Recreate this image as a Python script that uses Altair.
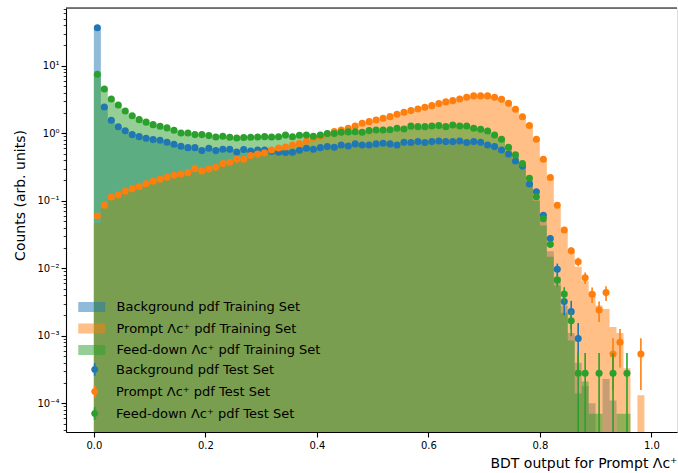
import altair as alt
import pandas as pd

# ---------------- data ----------------
n_bins = 80
bin_edges = [round(i * 0.0125, 5) for i in range(n_bins + 1)]

series_train = ["Background pdf Training Set",
                "Prompt Λc⁺  pdf Training Set",
                "Feed-down Λc⁺  pdf Training Set"]
series_test = ["Background pdf Test Set",
               "Prompt Λc⁺  pdf Test Set",
               "Feed-down Λc⁺  pdf Test Set"]
colors = ["#1f77b4", "#ff7f0e", "#2ca02c"]
# weight of a single entry (sets the Poisson error bars)
unit_weight = [4.5e-4, 2.68e-4, 2.78e-4]

bkg_test = [36.6, 2.45, 1.56, 1.25, 1.09, 0.955, 0.891, 0.843, 0.805, 0.787,
            0.735, 0.687, 0.641, 0.612, 0.612, 0.553, 0.600, 0.553, 0.579, 0.579,
            0.528, 0.573, 0.547, 0.566, 0.562, 0.537, 0.525, 0.519, 0.525, 0.560,
            0.600, 0.579, 0.612, 0.634, 0.619, 0.671, 0.649, 0.695, 0.671, 0.671,
            0.695, 0.711, 0.695, 0.671, 0.736, 0.728, 0.752, 0.728, 0.752, 0.769,
            0.752, 0.752, 0.769, 0.728, 0.752, 0.736, 0.671, 0.634, 0.566, 0.494,
            0.389, 0.324, 0.177, 0.136, 0.061, 0.0275, 0.00966, 0.00321, 0.00228, 0.000912,
            0, 0, 0, 0, 0, 0, 0, 0, 0, 0]

prompt_test = [0.0596, 0.0857, 0.114, 0.122, 0.138, 0.151, 0.162, 0.179, 0.195, 0.208,
               0.223, 0.239, 0.249, 0.261, 0.299, 0.277, 0.296, 0.313, 0.355, 0.372,
               0.412, 0.412, 0.468, 0.490, 0.513, 0.566, 0.603, 0.627, 0.668, 0.703,
               0.759, 0.843, 0.891, 0.977, 1.057, 1.119, 1.186, 1.282, 1.406, 1.486,
               1.574, 1.667, 1.762, 1.910, 2.046, 2.163, 2.291, 2.427, 2.564, 2.748,
               2.911, 3.041, 3.221, 3.412, 3.573, 3.573, 3.573, 3.412, 3.192, 2.780,
               2.270, 1.754, 1.303, 0.815, 0.412, 0.221, 0.0857, 0.037, 0.0182, 0.01253,
               0.00726, 0.00412, 0.00241, 0.00436, 0.000537, 0.000802, 0, 0, 0.000537, 0]

fd_test = [7.48, 4.53, 3.22, 2.62, 2.14, 1.82, 1.59, 1.46, 1.34, 1.27,
           1.20, 1.11, 1.01, 1.01, 0.955, 0.955, 0.923, 0.881, 0.902, 0.873,
           0.851, 0.863, 0.873, 0.881, 0.891, 0.881, 0.887, 0.938, 0.887, 0.933,
           0.944, 0.902, 0.944, 0.989, 0.989, 1.035, 1.047, 1.052, 1.035, 1.094,
           1.12, 1.12, 1.127, 1.186, 1.153, 1.274, 1.253, 1.253, 1.282, 1.297,
           1.253, 1.327, 1.282, 1.282, 1.186, 1.146, 1.081, 0.944, 0.815, 0.621,
           0.478, 0.356, 0.215, 0.115, 0.054, 0.0226, 0.00671, 0.00417, 0.00167, 0.000278,
           0.000278, 0, 0.000278, 0, 0.000278, 0, 0.000278, 0, 0, 0]

bkg_train = [36.6, 2.45, 1.56, 1.25, 1.09, 0.955, 0.891, 0.843, 0.805, 0.787,
             0.735, 0.687, 0.641, 0.612, 0.612, 0.553, 0.600, 0.553, 0.579, 0.579,
             0.528, 0.573, 0.547, 0.566, 0.562, 0.537, 0.525, 0.519, 0.525, 0.560,
             0.600, 0.579, 0.612, 0.634, 0.619, 0.671, 0.649, 0.695, 0.671, 0.671,
             0.695, 0.711, 0.695, 0.671, 0.736, 0.728, 0.752, 0.728, 0.752, 0.769,
             0.752, 0.752, 0.769, 0.728, 0.752, 0.736, 0.671, 0.634, 0.566, 0.494,
             0.37, 0.29, 0.185, 0.105, 0.050, 0.0178, 0.0075, 0.0028, 0.0011, 0.0004,
             0.00018, 0.0001, 0, 0.00023, 0.00011, 0, 0, 0, 0, 0]

prompt_train = [0.047, 0.0857, 0.114, 0.122, 0.138, 0.151, 0.162, 0.179, 0.195, 0.208,
                0.223, 0.239, 0.249, 0.261, 0.299, 0.277, 0.296, 0.313, 0.355, 0.372,
                0.412, 0.412, 0.468, 0.490, 0.513, 0.566, 0.603, 0.627, 0.668, 0.703,
                0.759, 0.843, 0.891, 0.977, 1.057, 1.119, 1.186, 1.282, 1.406, 1.486,
                1.574, 1.667, 1.762, 1.910, 2.046, 2.163, 2.291, 2.427, 2.564, 2.748,
                2.911, 3.041, 3.221, 3.412, 3.573, 3.573, 3.573, 3.412, 3.192, 2.780,
                2.270, 1.754, 1.303, 0.815, 0.412, 0.221, 0.080, 0.035, 0.018, 0.0105,
                0.0065, 0.0045, 0.0028, 0.0025, 0.00135, 0.0011, 0.00033, 0, 0.000132, 0]

fd_train = [7.48, 4.53, 3.22, 2.62, 2.14, 1.82, 1.59, 1.46, 1.34, 1.27,
            1.20, 1.11, 1.01, 1.01, 0.955, 0.955, 0.923, 0.881, 0.902, 0.873,
            0.851, 0.863, 0.873, 0.881, 0.891, 0.881, 0.887, 0.938, 0.887, 0.933,
            0.944, 0.902, 0.944, 0.989, 0.989, 1.035, 1.047, 1.052, 1.035, 1.094,
            1.12, 1.12, 1.127, 1.186, 1.153, 1.274, 1.253, 1.253, 1.282, 1.297,
            1.253, 1.327, 1.282, 1.282, 1.186, 1.146, 1.081, 0.944, 0.815, 0.621,
            0.45, 0.33, 0.20, 0.10, 0.043, 0.0148, 0.0055, 0.0022, 0.00085, 0.00014,
            0.00021, 0.00007, 0.00007, 0, 0, 0.00007, 0.00007, 0, 0, 0]

x_tick_values = [0.0, 0.2, 0.4, 0.6, 0.8, 1.0]
y_major_exp = [-4, -3, -2, -1, 0, 1]
y_major_labels = ["10⁻⁴", "10⁻³", "10⁻²", "10⁻¹", "10⁰", "10¹"]
y_minor_mult = [2, 3, 4, 5, 6, 7, 8, 9]

# ---------------- layout ----------------
W, H = 611, 424
Y_MIN, Y_MAX = 3.76e-5, 71.6
TINY = 1e-9
FONT = "DejaVu Sans"

y_tick_values = [10.0 ** e for e in y_major_exp]
for e in range(-5, 2):
    for m in y_minor_mult:
        v = m * 10.0 ** e
        if Y_MIN <= v <= Y_MAX:
            y_tick_values.append(v)
y_tick_values = sorted(y_tick_values)


def area_df(vals, name):
    rows = [{"x": bin_edges[i], "v": vals[i] if vals[i] > 0 else TINY, "s": name}
            for i in range(n_bins)]
    rows.append({"x": bin_edges[-1], "v": vals[-1] if vals[-1] > 0 else TINY, "s": name})
    df = pd.DataFrame(rows)
    df["base"] = TINY
    return df


def point_df(vals, w, name):
    rows = []
    for i in range(n_bins):
        v = vals[i]
        if v <= 0:
            continue
        err = (v * w) ** 0.5
        lo = v - err
        if lo < 0.02 * v:
            lo = TINY
        rows.append({"x": (bin_edges[i] + bin_edges[i + 1]) / 2, "v": v,
                     "lo": lo, "hi": v + err, "s": name})
    return pd.DataFrame(rows)


xs = alt.Scale(domain=[-0.05, 1.046], nice=False, zero=False)
ys = alt.Scale(type="log", domain=[Y_MIN, Y_MAX], nice=False)

major_test = "abs(log(datum.value)/LN10 - round(log(datum.value)/LN10)) < 0.001"
label_expr = "".join(
    f"abs(log(datum.value)/LN10 - ({e})) < 0.001 ? '{l}' : "
    for e, l in zip(y_major_exp, y_major_labels)) + "''"

xaxis = alt.Axis(values=x_tick_values, format=".1f", grid=False,
                 title="BDT output for Prompt Λc⁺", titleAnchor="end",
                 titleY=31, titleBaseline="middle",
                 titleFont=FONT, titleFontSize=14, titleFontWeight="normal", titleColor="black",
                 labelFont=FONT, labelFontSize=10, labelColor="black", labelPadding=3,
                 labelFlush=False, labelOverlap=False,
                 tickSize=5, tickWidth=1.1, tickColor="black",
                 domainColor="black", domainWidth=1.1)

yaxis = alt.Axis(values=y_tick_values, labelExpr=label_expr, grid=False,
                 title="Counts (arb. units)", titleX=-46, titleY=187,
                 titleAlign="center", titleBaseline="middle",
                 titleFont=FONT, titleFontSize=14, titleFontWeight="normal", titleColor="black",
                 labelFont=FONT, labelFontSize=10, labelColor="black", labelPadding=2,
                 labelOverlap=False, labelFlush=False,
                 tickSize={"condition": {"test": major_test, "value": 5}, "value": 2.8},
                 tickWidth={"condition": {"test": major_test, "value": 1.1}, "value": 0.8},
                 tickColor="black", domainColor="black", domainWidth=1.1)

fill_scale = alt.Scale(domain=series_train, range=colors)
color_scale = alt.Scale(domain=series_test, range=colors)

fill_legend = alt.Legend(title=None, orient="none", legendX=18.75, legendY=292,
                         symbolType="M-2,-0.74H2V0.74H-2Z", symbolSize=182.25,
                         symbolOpacity=0.5, symbolStrokeWidth=0,
                         labelFont=FONT, labelFontSize=13, labelColor="black",
                         labelOffset=17.75, rowPadding=7.5, labelLimit=500, padding=0)
point_legend = alt.Legend(title=None, orient="none", legendX=22.2, legendY=355,
                          symbolType="M-0.25,-1.8H0.25V1.8H-0.25Z M1,0A1,1 0 1,1 -1,0A1,1 0 1,1 1,0Z",
                          symbolSize=49, symbolOpacity=1, symbolStrokeWidth=0,
                          labelFont=FONT, labelFontSize=13, labelColor="black",
                          labelOffset=14.8, rowPadding=8, labelLimit=500, padding=0)

layers = []
for vals, name in zip([bkg_train, prompt_train, fd_train], series_train):
    layers.append(
        alt.Chart(area_df(vals, name)).mark_area(
            interpolate="step-after", opacity=0.5, clip=True
        ).encode(
            x=alt.X("x:Q", scale=xs, axis=xaxis),
            y=alt.Y("v:Q", scale=ys, axis=yaxis, stack=None),
            y2="base:Q",
            fill=alt.Fill("s:N", scale=fill_scale, legend=fill_legend),
        )
    )

for vals, w, name, col in zip([bkg_test, prompt_test, fd_test], unit_weight, series_test, colors):
    df = point_df(vals, w, name)
    layers.append(
        alt.Chart(df).mark_rule(color=col, strokeWidth=1.6, clip=True).encode(
            x=alt.X("x:Q", scale=xs, axis=xaxis),
            y=alt.Y("lo:Q", scale=ys, axis=yaxis),
            y2="hi:Q",
        )
    )
    layers.append(
        alt.Chart(df).mark_circle(size=50, opacity=1, clip=True).encode(
            x=alt.X("x:Q", scale=xs, axis=xaxis),
            y=alt.Y("v:Q", scale=ys, axis=yaxis),
            color=alt.Color("s:N", scale=color_scale, legend=point_legend),
        )
    )

# top frame line
layers.append(
    alt.Chart(pd.DataFrame({"a": [0]})).mark_rule(color="black", strokeWidth=1.1).encode(
        x=alt.value(0), x2=alt.value(W), y=alt.value(0)
    )
)

chart = alt.layer(*layers).properties(
    width=W, height=H,
    padding={"left": 66, "top": 8, "right": 1, "bottom": 41},
    autosize=alt.AutoSizeParams(type="none"),
).configure_view(stroke=None).configure(font=FONT)

chart.save("out.html", embed_options={"renderer": "svg", "actions": False})
